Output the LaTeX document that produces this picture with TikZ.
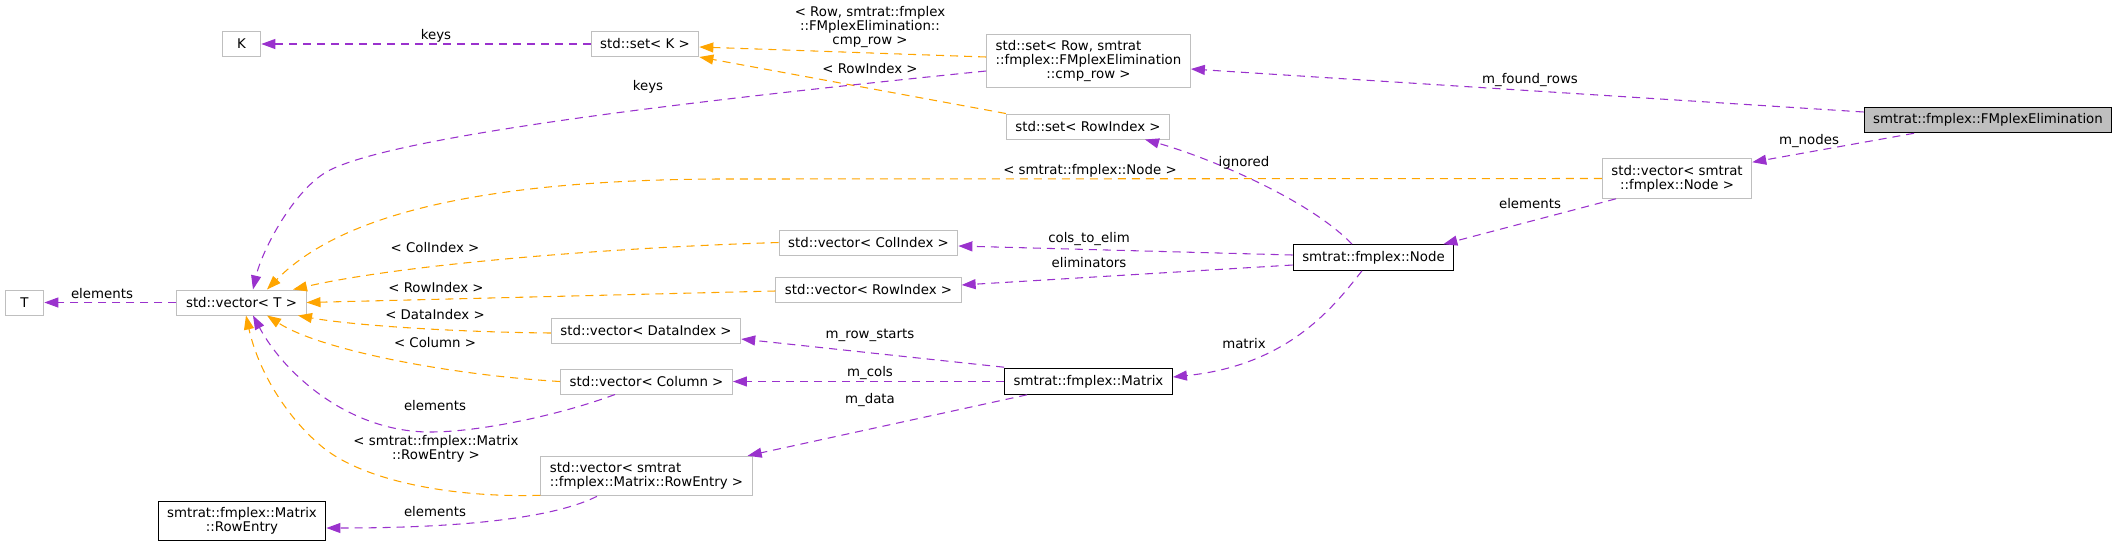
\documentclass[tikz,border=0pt]{standalone}
\usepackage{fontspec}
\setmainfont{DejaVu Sans}
\usetikzlibrary{arrows.meta,calc}
\definecolor{memb}{HTML}{9A32CD}
\definecolor{tmpl}{HTML}{FFA500}
\definecolor{grey75}{HTML}{BFBFBF}

\begin{document}
\begin{tikzpicture}[x=0.75pt,y=-0.75pt,font=\fontsize{10}{10.5}\selectfont,
  box/.style={draw=grey75,line width=0.75pt,inner xsep=6.8pt,inner ysep=4.75pt,
    minimum height=18.75pt,minimum width=29pt,align=center},
  boxb/.style={box,draw=black},
  boxcur/.style={box,draw=black,fill=grey75},
  uses/.style={draw=memb,line width=0.8pt,dash pattern=on 6pt off 4.5pt,
    -{Triangle[length=10.5pt,width=7.5pt]}},
  inst/.style={uses,draw=tmpl},
  lbl/.style={inner sep=0pt,align=center}]
  \useasboundingbox (0,0) rectangle (2119,547);
  % classes
  \node[box] (K) at (241.5,44) {K};
  \node[box] (setK) at (645,44) {std::set< K >};
  \node[box] (setcmp) at (1088.5,61) {\rlap{std::set< Row, smtrat}\hphantom{::fmplex::FMplexElimination}\\::fmplex::FMplexElimination\\::cmp\_row >};
  \node[boxcur] (elim) at (1988,120) {smtrat::fmplex::FMplexElimination};
  \node[box] (setrow) at (1088,126.5) {std::set< RowIndex >};
  \node[box] (vecnode) at (1677,178.5) {std::vector< smtrat\\::fmplex::Node >};
  \node[boxb] (fnode) at (1373.5,257.5) {smtrat::fmplex::Node};
  \node[box] (veccol) at (868.5,242.5) {std::vector< ColIndex >};
  \node[box] (vecrow) at (868.5,289.5) {std::vector< RowIndex >};
  \node[box] (vecdata) at (646,330.5) {std::vector< DataIndex >};
  \node[box] (veccolumn) at (646.5,381.5) {std::vector< Column >};
  \node[boxb] (matrix) at (1088.5,381.5) {smtrat::fmplex::Matrix};
  \node[box] (vecentry) at (646.5,476) {\rlap{std::vector< smtrat}\hphantom{::fmplex::Matrix::RowEntry >}\\::fmplex::Matrix::RowEntry >};
  \node[boxb] (rowentry) at (242,521) {smtrat::fmplex::Matrix\\::RowEntry};
  \node[box] (T) at (24.5,302.5) {T};
  \node[box] (vecT) at (241.5,302.5) {std::vector< T >};
  % members and template arguments
  \draw[uses] (setK.west) -- (K.east);
  \draw[inst] ($(setcmp.west)+(0,-4)$) -- ($(setK.east)+(0,3)$);
  \draw[inst] (setrow.north west) -- (setK.south east);
  \draw[uses] ($(setcmp.west)+(0,10)$) .. controls (700,100) and (400,135) .. (330,170)
    .. controls (295,187.5) and (262,250) .. ($(vecT.north)+(11.5,0)$);
  \draw[uses] ($(elim.west)+(0,-8)$) -- ($(setcmp.east)+(0,8)$);
  \draw[uses] ($(elim.south)+(-74,0)$) -- ($(vecnode.north east)+(0,4)$);
  \draw[inst] (vecnode.west) -- (720,179) .. controls (480,180) and (340,215) .. ($(vecT.north)+(25.5,0)$);
  \draw[uses] ($(vecnode.south)+(-61,0)$) -- ($(fnode.north east)+(-11,0)$);
  \draw[uses] ($(fnode.north)+(-21.5,0)$) .. controls (1310,200) and (1210,158) .. ($(setrow.south)+(57,0)$);
  \draw[uses] ($(fnode.west)+(0,-2.5)$) -- ($(veccol.east)+(0,3.5)$);
  \draw[uses] ($(fnode.west)+(0,7.5)$) -- ($(vecrow.east)+(0,-4.5)$);
  \draw[uses] ($(fnode.south)+(-11.5,0)$) .. controls (1335,305) and (1290,365) .. ($(matrix.east)+(0,-4.5)$);
  \draw[inst] (veccol.west) .. controls (600,248) and (400,265) .. ($(vecT.north)+(51.5,0)$);
  \draw[inst] ($(vecrow.west)+(0,1.5)$) -- (vecT.east);
  \draw[inst] ($(vecdata.west)+(0,2.5)$) .. controls (450,332) and (350,325) .. ($(vecT.south)+(56.5,0)$);
  \draw[inst] (veccolumn.west) .. controls (450,375) and (320,350) .. ($(vecT.south)+(25.5,0)$);
  \draw[uses] ($(veccolumn.south)+(-31.5,0)$) .. controls (560,415) and (480,432) .. (430,432)
    .. controls (350,432) and (285,375) .. ($(vecT.south)+(11.5,0)$);
  \draw[inst] ($(vecentry.south west)+(0,-1)$) .. controls (450,498) and (360,480) .. (320,445)
    .. controls (285,415) and (258,370) .. ($(vecT.south)+(4.5,0)$);
  \draw[uses] ($(vecentry.south)+(-49.5,0)$) .. controls (560,515) and (480,528) .. ($(rowentry.east)+(0,7)$);
  \draw[uses] (vecT.west) -- (T.east);
  \draw[uses] ($(matrix.north west)+(0,-1)$) -- ($(vecdata.east)+(0,8.5)$);
  \draw[uses] (matrix.west) -- (veccolumn.east);
  \draw[uses] ($(matrix.south west)+(23,0)$) -- ($(vecentry.north east)+(-5,0)$);
  % labels
  \node[lbl] (lkeysK) at (436,36) {keys}; \node[lbl] (lkeysT) at (648,87) {keys};
  \node[lbl] (lcmp) at (870,27) {< Row, smtrat::fmplex\\::FMplexElimination::\\cmp\_row >};
  \node[lbl] (lrowset) at (870,69) {< RowIndex >};
  \node[lbl] (lfound) at (1530,80) {m\_found\_rows}; \node[lbl] (lnodes) at (1809,141) {m\_nodes};
  \node[lbl] (lnodeT) at (1090,171) {< smtrat::fmplex::Node >};
  \node[lbl] (lign) at (1244,163) {ignored}; \node[lbl] (lelnode) at (1530,204) {elements};
  \node[lbl] (lcols) at (1089,239) {cols\_to\_elim}; \node[lbl] (lelim) at (1089,263) {eliminators};
  \node[lbl] (lmat) at (1244,344) {matrix};
  \node[lbl] (lcolidx) at (435,248) {< ColIndex >}; \node[lbl] (lrowidx) at (436,288) {< RowIndex >};
  \node[lbl] (ldata) at (435,315) {< DataIndex >}; \node[lbl] (lcolumn) at (435,343) {< Column >};
  \node[lbl] (lelcol) at (435,406) {elements};
  \node[lbl] (lentryT) at (436,449) {< smtrat::fmplex::Matrix\\::RowEntry >};
  \node[lbl] (lelentry) at (435,512) {elements}; \node[lbl] (lelT) at (102,294) {elements};
  \node[lbl] (lstarts) at (870,335) {m\_row\_starts}; \node[lbl] (lmcols) at (870,373) {m\_cols};
  \node[lbl] (ldatal) at (870,400) {m\_data};
\end{tikzpicture}
\end{document}
